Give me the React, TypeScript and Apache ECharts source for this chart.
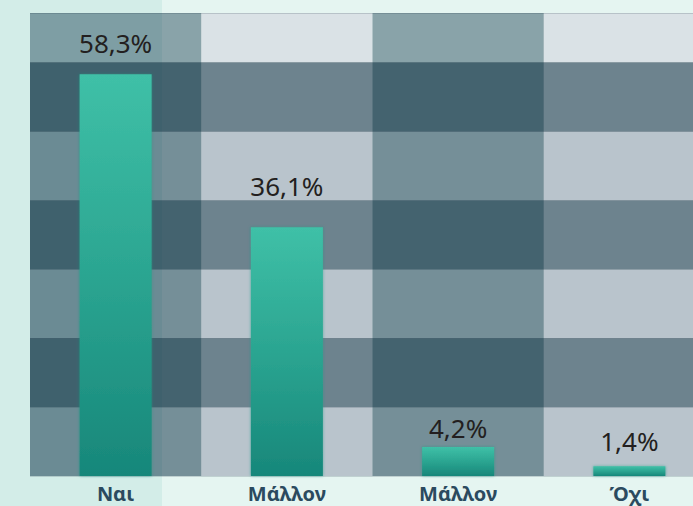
import React, { useEffect, useRef } from "react";
import * as echarts from "echarts";

const categories = ["Ναι", "Μάλλον", "Μάλλον", "Όχι"];
const values = [58.3, 36.1, 4.2, 1.4];
const valueLabels = ["58,3%", "36,1%", "4,2%", "1,4%"];
const labelDistances = [18, 28, 6, 12];

export default function App() {
  const ref = useRef<HTMLDivElement>(null);
  useEffect(() => {
    if (!ref.current) return;
    const chart = echarts.init(ref.current, null, { renderer: "svg" });
    const barGradient = new echarts.graphic.LinearGradient(0, 0, 0, 1, [
      { offset: 0, color: "#3fc0a7" },
      { offset: 0.5, color: "#2ba591" },
      { offset: 1, color: "#17877a" },
    ]);
    chart.setOption({
      animation: false,
      backgroundColor: "transparent",
      grid: { left: 30, right: 0, top: 13, bottom: 30 },
      xAxis: {
        type: "category",
        data: categories,
        z: 0,
        axisLine: { show: false },
        axisTick: { show: false },
        axisLabel: {
          margin: 7,
          fontFamily: "Noto Sans",
          fontSize: 20,
          lineHeight: 20,
          fontWeight: "bold",
          color: "#2b4a5f",
        },
        splitArea: {
          show: true,
          areaStyle: {
            color: ["rgba(0,40,63,0.4)", "rgba(180,160,190,0.22)"],
          },
        },
      },
      yAxis: {
        type: "value",
        min: 0,
        max: 67.2,
        interval: 10,
        z: 1,
        axisLine: { show: false },
        axisTick: { show: false },
        axisLabel: { show: false },
        splitLine: { show: true, lineStyle: { color: "rgba(30,50,65,0.18)", width: 1 } },
        splitArea: {
          show: true,
          areaStyle: {
            color: [
              "rgba(12,45,67,0.16)",
              "rgba(0,36,54,0.5)",
              "rgba(12,45,67,0.16)",
              "rgba(0,36,54,0.5)",
              "rgba(12,45,67,0.16)",
              "rgba(0,36,54,0.5)",
              "rgba(0,0,0,0)",
            ],
          },
        },
      },
      series: [
        {
          type: "bar",
          barWidth: 72,
          z: 2,
          data: values.map((v, i) => ({
            value: v,
            label: { distance: labelDistances[i] },
          })),
          itemStyle: {
            color: barGradient,
            shadowBlur: 3,
            shadowColor: "rgba(30,150,130,0.6)",
          },
          label: {
            show: true,
            position: "top",
            fontFamily: "Noto Sans",
            fontSize: 26,
            color: "#231f20",
            formatter: (p: any) => valueLabels[p.dataIndex],
          },
        },
      ],
    });
    return () => chart.dispose();
  }, []);
  return (
    <div
      style={{
        position: "fixed",
        left: 0,
        top: 0,
        width: 693,
        height: 506,
        overflow: "hidden",
        background: "linear-gradient(to right, #d3ede8 0px, #d3ede8 162px, #e5f5f1 162px, #e5f5f1 100%)",
      }}
    >
      <div ref={ref} style={{ width: 715, height: 506 }} />
    </div>
  );
}
